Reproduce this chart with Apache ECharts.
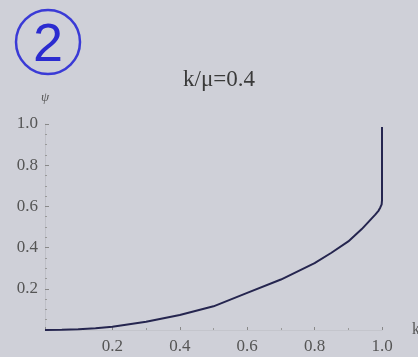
<!DOCTYPE html>
<html>
<head>
<meta charset="utf-8">
<script src="https://cdn.jsdelivr.net/npm/echarts@6/dist/echarts.min.js"></script>
<style>
html,body{margin:0;padding:0;background:#cfd0d8;}
#chart{width:418px;height:357px;}
</style>
</head>
<body>
<div id="chart"></div>
<script>
// psi as a function of k for k/mu = 0.4
const kValues   = [0, 0.05, 0.1, 0.15, 0.2, 0.3, 0.4, 0.5, 0.6, 0.7, 0.8, 0.85, 0.9, 0.92, 0.94, 0.96, 0.98, 0.99, 0.995, 0.999, 1.0, 1.0];
const psiValues = [0, 0.001, 0.004, 0.009, 0.016, 0.04, 0.073, 0.115, 0.18, 0.245, 0.325, 0.375, 0.43, 0.46, 0.49, 0.525, 0.56, 0.58, 0.595, 0.61, 0.63, 0.985];
const xTicks = [0.2, 0.4, 0.6, 0.8, 1.0];
const yTicks = [0.2, 0.4, 0.6, 0.8, 1.0];
const titleText = 'k/μ=0.4';

const points = kValues.map((k, i) => [k, psiValues[i]]);
const fmt = v => (xTicks.concat(yTicks).some(t => Math.abs(t - v) < 1e-9) ? v.toFixed(1) : '');

const chart = echarts.init(document.getElementById('chart'));
chart.setOption({
  backgroundColor: '#cfd0d8',
  animation: false,
  title: {
    text: titleText,
    left: 214, top: 63, textAlign: 'center',
    textStyle: { fontFamily: 'Liberation Serif', fontSize: 23, fontWeight: 'normal', color: '#3a3a3a' }
  },
  grid: { left: 45, right: 36, top: 124, bottom: 27, containLabel: false, outerBoundsMode: 'none' },
  xAxis: {
    type: 'value', min: 0, max: 1, interval: 0.2,
    name: 'k', nameGap: 30,
    nameTextStyle: { fontFamily: 'Liberation Serif', fontSize: 16, color: '#555', verticalAlign: 'middle' },
    axisLine: { show: true, lineStyle: { color: '#c4c5cc', width: 1 } },
    axisTick: { inside: true, length: 3, lineStyle: { color: '#888' } },
    minorTick: { show: true, splitNumber: 2, length: 2, lineStyle: { color: '#999' } },
    splitLine: { show: false },
    axisLabel: { formatter: fmt, margin: 8, fontFamily: 'Liberation Serif', fontSize: 17, color: '#555' }
  },
  yAxis: {
    type: 'value', min: 0, max: 1, interval: 0.2,
    name: 'ψ', nameGap: 20,
    nameTextStyle: { fontFamily: 'Liberation Serif', fontSize: 13, fontStyle: 'italic', color: '#555', align: 'center' },
    axisLine: { show: true, lineStyle: { color: '#bfc0c8', width: 1 } },
    axisTick: { inside: true, length: 4, lineStyle: { color: '#888' } },
    minorTick: { show: true, splitNumber: 4, length: 2, lineStyle: { color: '#999' } },
    splitLine: { show: false },
    axisLabel: { formatter: fmt, margin: 7, fontFamily: 'Liberation Serif', fontSize: 17, color: '#555' }
  },
  series: [{
    type: 'line',
    data: points,
    showSymbol: false,
    lineStyle: { color: '#25254f', width: 2 },
    clip: false
  }],
  graphic: [
    { type: 'circle', shape: { cx: 48, cy: 42, r: 32 }, style: { fill: 'none', stroke: '#3a3ad6', lineWidth: 2.5 } },
    { type: 'text', x: 48, y: 46, style: { text: '2', fill: '#2b2bd0', font: '54px "Liberation Sans"', align: 'center', verticalAlign: 'middle' } }
  ]
});
</script>
</body>
</html>
